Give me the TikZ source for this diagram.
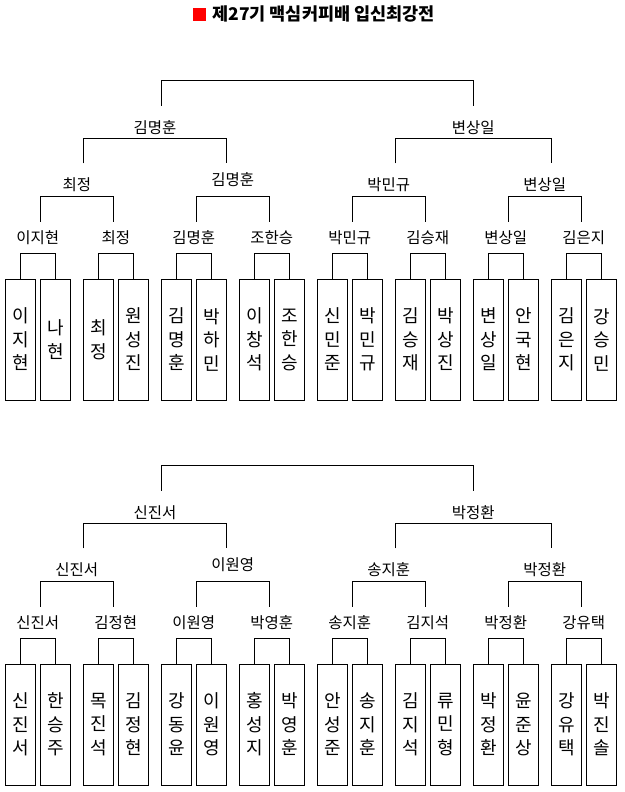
\documentclass[tikz,border=0pt]{standalone}
\usepackage{fontspec}
\setmainfont{Noto Sans CJK KR}
\usetikzlibrary{positioning}

\begin{document}
\begin{tikzpicture}[x=1pt, y=-1pt,
    player/.style={draw, line width=1pt, minimum width=30pt, minimum height=121pt, inner sep=0pt, align=center, font=\fontsize{18}{23.5}\selectfont},
    winner/.style={inner sep=0pt, font=\fontsize{15.5}{17}\selectfont},
    bracket/.style={line width=1pt}]
    \useasboundingbox (0,0) rectangle (624,792);
    % title
    \node[fill=red, minimum size=13pt, inner sep=0pt] (mark) at (199,14.2) {};
    \node[right=6.4pt of mark, inner sep=0pt, font=\bfseries\fontsize{17.5}{19}\selectfont] (title) {제27기 맥심커피배 입신최강전};
    % upper bracket: players
    \node[player] (t1) at (20.3,339.5) {이\\지\\현};
    \node[player] (t2) at (55.3,339.5) {나\\현};
    \node[player] (t3) at (98.3,339.5) {최\\정};
    \node[player] (t4) at (133.3,339.5) {원\\성\\진};
    \node[player] (t5) at (176.3,339.5) {김\\명\\훈};
    \node[player] (t6) at (211.3,339.5) {박\\하\\민};
    \node[player] (t7) at (254.3,339.5) {이\\창\\석};
    \node[player] (t8) at (289.3,339.5) {조\\한\\승};
    \node[player] (t9) at (332.3,339.5) {신\\민\\준};
    \node[player] (t10) at (367.3,339.5) {박\\민\\규};
    \node[player] (t11) at (410.3,339.5) {김\\승\\재};
    \node[player] (t12) at (445.3,339.5) {박\\상\\진};
    \node[player] (t13) at (488.3,339.5) {변\\상\\일};
    \node[player] (t14) at (523.3,339.5) {안\\국\\현};
    \node[player] (t15) at (566.3,339.5) {김\\은\\지};
    \node[player] (t16) at (601.3,339.5) {강\\승\\민};
    % upper bracket: winners
    \node[winner] (tq1) at (37.8,237.7) {이지현};
    \node[winner] (tq2) at (115.8,237.7) {최정};
    \node[winner] (tq3) at (193.8,237.7) {김명훈};
    \node[winner] (tq4) at (271.8,237.7) {조한승};
    \node[winner] (tq5) at (349.8,237.7) {박민규};
    \node[winner] (tq6) at (427.8,237.7) {김승재};
    \node[winner] (tq7) at (505.8,237.7) {변상일};
    \node[winner] (tq8) at (583.8,237.7) {김은지};
    \node[winner] (ts1) at (76.8,185) {최정};
    \node[winner] (ts2) at (232.8,180) {김명훈};
    \node[winner] (ts3) at (388.8,185) {박민규};
    \node[winner] (ts4) at (544.8,185) {변상일};
    \node[winner] (tf1) at (155,127.7) {김명훈};
    \node[winner] (tf2) at (473.3,127.7) {변상일};
    % upper bracket: lines
    \draw[bracket] (t1.north) -- ++(0,-24.7) -| (t2.north);
    \draw[bracket] (t3.north) -- ++(0,-24.7) -| (t4.north);
    \draw[bracket] (t5.north) -- ++(0,-24.7) -| (t6.north);
    \draw[bracket] (t7.north) -- ++(0,-24.7) -| (t8.north);
    \draw[bracket] (t9.north) -- ++(0,-24.7) -| (t10.north);
    \draw[bracket] (t11.north) -- ++(0,-24.7) -| (t12.north);
    \draw[bracket] (t13.north) -- ++(0,-24.7) -| (t14.north);
    \draw[bracket] (t15.north) -- ++(0,-24.7) -| (t16.north);
    \draw[bracket] ([shift={(2.5,-16)}]tq1.center) -- ++(0,-25) -| ([shift={(-2.5,-16)}]tq2.center);
    \draw[bracket] ([shift={(2.5,-16)}]tq3.center) -- ++(0,-25) -| ([shift={(-2.5,-16)}]tq4.center);
    \draw[bracket] ([shift={(2.5,-16)}]tq5.center) -- ++(0,-25) -| ([shift={(-2.5,-16)}]tq6.center);
    \draw[bracket] ([shift={(2.5,-16)}]tq7.center) -- ++(0,-25) -| ([shift={(-2.5,-16)}]tq8.center);
    \draw[bracket] ([shift={(6.5,-21.7)}]ts1.center) -- ++(0,-25) -| ([shift={(-6.1,-16.7)}]ts2.center);
    \draw[bracket] ([shift={(6.5,-21.7)}]ts3.center) -- ++(0,-25) -| ([shift={(6.5,-21.7)}]ts4.center);
    \draw[bracket] ([shift={(6.3,-22)}]tf1.center) -- ++(0,-25.7) -| ([shift={(0,-22)}]tf2.center);
    % lower bracket
    \begin{scope}[yshift=-385pt]
        \node[player] (b1) at (20.3,339.5) {신\\진\\서};
        \node[player] (b2) at (55.3,339.5) {한\\승\\주};
        \node[player] (b3) at (98.3,339.5) {목\\진\\석};
        \node[player] (b4) at (133.3,339.5) {김\\정\\현};
        \node[player] (b5) at (176.3,339.5) {강\\동\\윤};
        \node[player] (b6) at (211.3,339.5) {이\\원\\영};
        \node[player] (b7) at (254.3,339.5) {홍\\성\\지};
        \node[player] (b8) at (289.3,339.5) {박\\영\\훈};
        \node[player] (b9) at (332.3,339.5) {안\\성\\준};
        \node[player] (b10) at (367.3,339.5) {송\\지\\훈};
        \node[player] (b11) at (410.3,339.5) {김\\지\\석};
        \node[player] (b12) at (445.3,339.5) {류\\민\\형};
        \node[player] (b13) at (488.3,339.5) {박\\정\\환};
        \node[player] (b14) at (523.3,339.5) {윤\\준\\상};
        \node[player] (b15) at (566.3,339.5) {강\\유\\택};
        \node[player] (b16) at (601.3,339.5) {박\\진\\솔};
        \node[winner] (bq1) at (37.8,237.7) {신진서};
        \node[winner] (bq2) at (115.8,237.7) {김정현};
        \node[winner] (bq3) at (193.8,237.7) {이원영};
        \node[winner] (bq4) at (271.8,237.7) {박영훈};
        \node[winner] (bq5) at (349.8,237.7) {송지훈};
        \node[winner] (bq6) at (427.8,237.7) {김지석};
        \node[winner] (bq7) at (505.8,237.7) {박정환};
        \node[winner] (bq8) at (583.8,237.7) {강유택};
        \node[winner] (bs1) at (76.8,185) {신진서};
        \node[winner] (bs2) at (232.8,180) {이원영};
        \node[winner] (bs3) at (388.8,185) {송지훈};
        \node[winner] (bs4) at (544.8,185) {박정환};
        \node[winner] (bf1) at (155,127.7) {신진서};
        \node[winner] (bf2) at (473.3,127.7) {박정환};
        \draw[bracket] (b1.north) -- ++(0,-24.7) -| (b2.north);
        \draw[bracket] (b3.north) -- ++(0,-24.7) -| (b4.north);
        \draw[bracket] (b5.north) -- ++(0,-24.7) -| (b6.north);
        \draw[bracket] (b7.north) -- ++(0,-24.7) -| (b8.north);
        \draw[bracket] (b9.north) -- ++(0,-24.7) -| (b10.north);
        \draw[bracket] (b11.north) -- ++(0,-24.7) -| (b12.north);
        \draw[bracket] (b13.north) -- ++(0,-24.7) -| (b14.north);
        \draw[bracket] (b15.north) -- ++(0,-24.7) -| (b16.north);
        \draw[bracket] ([shift={(2.5,-16)}]bq1.center) -- ++(0,-25) -| ([shift={(-2.5,-16)}]bq2.center);
        \draw[bracket] ([shift={(2.5,-16)}]bq3.center) -- ++(0,-25) -| ([shift={(-2.5,-16)}]bq4.center);
        \draw[bracket] ([shift={(2.5,-16)}]bq5.center) -- ++(0,-25) -| ([shift={(-2.5,-16)}]bq6.center);
        \draw[bracket] ([shift={(2.5,-16)}]bq7.center) -- ++(0,-25) -| ([shift={(-2.5,-16)}]bq8.center);
        \draw[bracket] ([shift={(6.5,-21.7)}]bs1.center) -- ++(0,-25) -| ([shift={(-6.1,-16.7)}]bs2.center);
        \draw[bracket] ([shift={(6.5,-21.7)}]bs3.center) -- ++(0,-25) -| ([shift={(6.5,-21.7)}]bs4.center);
        \draw[bracket] ([shift={(6.3,-22)}]bf1.center) -- ++(0,-25.7) -| ([shift={(0,-22)}]bf2.center);
    \end{scope}
\end{tikzpicture}
\end{document}
